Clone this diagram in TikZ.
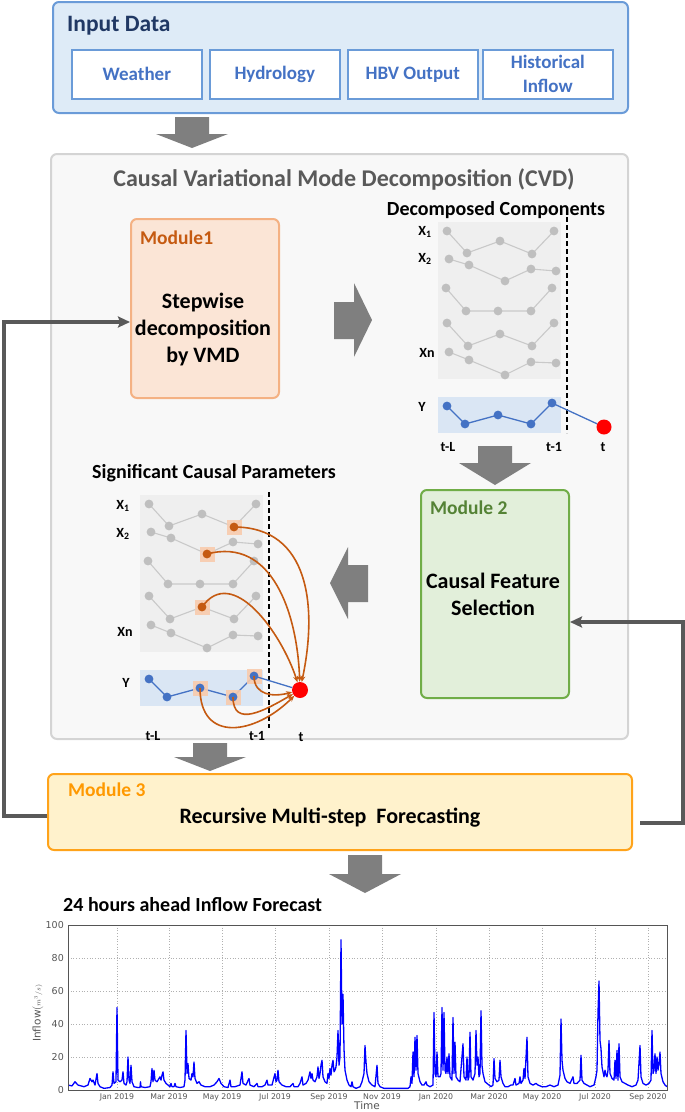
\documentclass[tikz,border=0pt]{standalone}
\usepackage{fontspec}
\setmainfont{Carlito}
\newfontfamily\plotfont{DejaVu Sans}
\usetikzlibrary{arrows.meta}
\definecolor{inbg}{HTML}{DEEBF7}
\definecolor{inbd}{HTML}{6A9BD8}
\definecolor{intxt}{HTML}{4472C4}
\definecolor{indark}{HTML}{203864}
\definecolor{garrow}{HTML}{7F7F7F}
\definecolor{cvdbg}{HTML}{F8F8F8}
\definecolor{cvdbd}{HTML}{D4D4D4}
\definecolor{cvdtxt}{HTML}{595959}
\definecolor{m1bg}{HTML}{FBE5D6}
\definecolor{m1bd}{HTML}{F4B183}
\definecolor{m1txt}{HTML}{C55A11}
\definecolor{m2bg}{HTML}{E2EFDA}
\definecolor{m2bd}{HTML}{70AD47}
\definecolor{m2txt}{HTML}{548235}
\definecolor{m3bg}{HTML}{FFF2CC}
\definecolor{m3bd}{HTML}{FFA31A}
\definecolor{m3txt}{HTML}{FF9900}
\definecolor{fb}{HTML}{595959}
\definecolor{pgray}{HTML}{EFEFEF}
\definecolor{ptgray}{HTML}{BFBFBF}
\definecolor{pblue}{HTML}{DAE6F4}
\definecolor{ptblue}{HTML}{4472C4}
\definecolor{hl}{HTML}{F8CBAD}
\definecolor{hlpt}{HTML}{C55A11}
\definecolor{plotblue}{HTML}{0000FF}
\definecolor{axgray}{HTML}{555555}
\definecolor{gridgray}{HTML}{B0B0B0}
\newcommand\fsz[1]{\fontsize{#1}{#1}\selectfont}
\newcommand\blockdown[4]{%
  \fill[garrow] (#1-17,#2) -- (#1+17,#2) -- (#1+17,#3) -- (#1+36,#3) -- (#1,#4) -- (#1-36,#3) -- (#1-17,#3) -- cycle;}
\newcommand\drawpanel{%
  \fill[pgray] (0,0) rectangle (123,157);
  \fill[pblue] (0,175) rectangle (123,211);
  \draw[sline] (9,9) coordinate (a11) -- (29,31) coordinate (a12) -- (62,19) coordinate (a13) -- (94,32) coordinate (a14) -- (116,9) coordinate (a15);
  \draw[sline] (11,37) coordinate (a21) -- (31,43) coordinate (a22) -- (67,59) coordinate (a23) -- (93,47) coordinate (a24) -- (118,49) coordinate (a25);
  \draw[sline] (8,66) coordinate (a31) -- (28,89) coordinate (a32) -- (60,89) coordinate (a33) -- (93,89) coordinate (a34) -- (114,66) coordinate (a35);
  \draw[sline] (9,101) coordinate (a41) -- (30,124) coordinate (a42) -- (62,112) coordinate (a43) -- (94,124) coordinate (a44) -- (116,101) coordinate (a45);
  \draw[sline] (11,130) coordinate (a51) -- (31,138) coordinate (a52) -- (67,153) coordinate (a53) -- (93,140) coordinate (a54) -- (118,141) coordinate (a55);
  \draw[yline] (9,184) coordinate (y1) -- (27,202) coordinate (y2) -- (60,193) coordinate (y3) -- (93,202) coordinate (y4) -- (114,181) coordinate (y5);
  \foreach \i in {1,...,5}{\foreach \j in {1,...,5}{\fill[ptgray] (a\i\j) circle[radius=4.4pt];}}
  \foreach \j in {1,...,5}{\fill[ptblue] (y\j) circle[radius=4.4pt];}
}
\tikzset{
  box/.style={draw, rounded corners=6pt, line width=2pt, anchor=north west, inner sep=0pt},
  subbox/.style={draw=inbd, fill=white, line width=1.6pt, anchor=north west, inner sep=0pt,
    minimum width=130, minimum height=49, text=intxt, font=\bfseries\fsz{19}, align=center},
  modtitle/.style={anchor=west, font=\bfseries\fsz{19.5}, inner sep=0pt},
  bigtext/.style={align=center, font=\bfseries\fontsize{22}{27}\selectfont, inner sep=0pt},
  ptitle/.style={font=\bfseries\fsz{20}, inner sep=0pt},
  lab/.style={font=\bfseries\fsz{14}, inner sep=0pt},
  sline/.style={draw=ptgray!85, line width=1.1pt},
  yline/.style={draw=ptblue, line width=1.3pt},
  fbline/.style={draw=fb, line width=3.5pt, -{Stealth[length=12pt,width=11pt,inset=2pt]}},
  hlcurve/.style={draw=hlpt, line width=1.6pt, -{Stealth[length=6pt,width=5pt]}},
  hlsq/.style={fill=hl, opacity=0.9, minimum size=15, inner sep=0pt},
  redpt/.style={circle, fill=red, inner sep=0pt},
  tick/.style={font=\plotfont\fsz{9.5}, text=axgray, inner sep=0pt},
}
\begin{document}
\begin{tikzpicture}[x=1pt,y=-1pt]
\useasboundingbox (0,0) rectangle (685,1112);

% ---------- Input data ----------
\node[box, fill=inbg, draw=inbd, minimum width=575, minimum height=111] (input) at (52,1) {};
\node[anchor=west, text=indark, font=\bfseries\fsz{23.5}, inner sep=0pt] (inputT) at (67,26) {Input Data};
\node[subbox] (weather) at (71,49) {Weather};
\node[subbox] (hydro) at (209,49) {Hydrology};
\node[subbox] (hbv) at (347,49) {HBV Output};
\node[subbox, font=\bfseries\fontsize{19}{24}\selectfont] (hist) at (482,49) {Historical\\Inflow};

\blockdown{192}{117}{134}{148}

% ---------- CVD ----------
\node[box, fill=cvdbg, draw=cvdbd, minimum width=577, minimum height=585] (cvd) at (50,153) {};
\node[font=\bfseries\fsz{24}, text=cvdtxt, inner sep=0pt] (cvdT) at (344,179) {Causal Variational Mode Decomposition (CVD)};

\node[box, fill=m1bg, draw=m1bd, minimum width=148, minimum height=179] (m1) at (130,218) {};
\node[modtitle, text=m1txt] (m1T) at (140,238) {Module1};
\node[bigtext] (m1txt) at (203,330) {Stepwise\\decomposition\\by VMD};

% right block arrow
\fill[garrow] (334,302) -- (354,302) -- (354,283) -- (372,320) -- (354,357) -- (354,339) -- (334,339) -- cycle;

% decomposed components
\node[ptitle] (decT) at (496,210) {Decomposed Components};
\begin{scope}[shift={(438,222)}, name prefix=dec-]
  \drawpanel
\end{scope}
\draw[dashed, line width=1.3pt, dash pattern=on 5pt off 3pt] (567,217) coordinate (dtop) -- (567,433) coordinate (dbot);
\node[redpt, minimum size=15] (redD) at (604,427) {};
\draw[yline] (dec-y5) -- (redD);
\node[lab] (dX1) at (425,232) {X\textsubscript{1}};
\node[lab] (dX2) at (425,259) {X\textsubscript{2}};
\node[lab] (dXn) at (427,353) {Xn};
\node[lab] (dY) at (422,407) {Y};
\node[lab] (dtL) at (448,447) {t-L};
\node[lab] (dt1) at (554,447) {t-1};
\node[lab] (dt) at (603,447) {t};

\blockdown{495}{446}{463}{485}

% module 2
\node[box, fill=m2bg, draw=m2bd, minimum width=148, minimum height=208] (m2) at (420,489) {};
\node[modtitle, text=m2txt] (m2T) at (430,508) {Module 2};
\node[bigtext] (m2txt) at (493,594) {Causal Feature\\Selection};

% left block arrow
\fill[garrow] (368,565) -- (348,565) -- (348,547) -- (330,583) -- (348,619) -- (348,602) -- (368,602) -- cycle;

% significant causal parameters
\node[ptitle] (sigT) at (214,473) {Significant Causal Parameters};
\begin{scope}[shift={(140,495)}, name prefix=sig-]
  \drawpanel
  \foreach \p in {a14,a23,a43,y3,y4,y5}{\node[hlsq] at (\p) {};}
  \foreach \p in {a14,a23,a43}{\fill[hlpt] (\p) circle[radius=4.4pt];}
  \foreach \p in {y3,y4,y5}{\fill[ptblue] (\p) circle[radius=4.4pt];}
\end{scope}
\draw[dashed, line width=1.3pt, dash pattern=on 5pt off 3pt] (269,492) coordinate (stop) -- (269,728) coordinate (sbot);
\node[redpt, minimum size=16] (redS) at (300,690) {};
\draw[yline] (sig-y5) -- (redS);
\draw[hlcurve] (sig-a14) to[out=0, in=78, looseness=1.15] (redS);
\draw[hlcurve] (sig-a23) to[out=15, in=92, looseness=1.1] (redS);
\draw[hlcurve] (sig-a43) to[out=55, in=108, looseness=1.1] (redS);
\draw[hlcurve] (sig-y5) to[out=-90, in=195, looseness=1.2] (redS);
\draw[hlcurve] (sig-y4) to[out=-90, in=210, looseness=1.35] (redS);
\draw[hlcurve] (sig-y3) to[out=-90, in=225, looseness=1.5] (redS);
\node[lab] (sX1) at (123,506) {X\textsubscript{1}};
\node[lab] (sX2) at (123,534) {X\textsubscript{2}};
\node[lab] (sXn) at (125,632) {Xn};
\node[lab] (sY) at (126,683) {Y};
\node[lab] (stL) at (153,736) {t-L};
\node[lab] (st1) at (257,736) {t-1};
\node[lab] (st) at (301,737) {t};

\blockdown{210}{743}{757}{771}

% ---------- Module 3 ----------
\node[box, fill=m3bg, draw=m3bd, minimum width=584, minimum height=76] (m3) at (47,773) {};
\node[modtitle, text=m3txt] (m3T) at (68,790) {Module 3};
\node[font=\bfseries\fsz{22}, inner sep=0pt] (m3txt) at (330,818) {Recursive Multi-step~~Forecasting};

% feedback lines
\coordinate (fbL) at (4,0);
\coordinate (fbR) at (683,0);
\coordinate (m3L) at ([yshift=-4pt]m3.west);
\coordinate (m1L) at ([yshift=-13.5pt]m1.west);
\draw[fbline] (m3L) -- (m3L -| fbL) -- (m1L -| fbL) -- (m1L);
\coordinate (m3R) at ([xshift=7pt,yshift=-11pt]m3.east);
\coordinate (m2R) at ([yshift=-28pt]m2.east);
\draw[fbline] (m3R) -- (m3R -| fbR) -- (m2R -| fbR) -- (m2R);

\blockdown{365}{855}{874}{893}

% ---------- Chart ----------
\node[ptitle, anchor=west] (chartT) at (63,905) {24 hours ahead Inflow Forecast};
\foreach \x in {117,169,222,275,329,382,436,489,542,595,648}{
  \draw[gridgray, line width=0.7pt, dotted] (\x,925) -- (\x,1090);}
\foreach \v in {20,40,60,80}{
  \draw[gridgray, line width=0.7pt, dotted] (68,1090-1.65*\v) -- (667,1090-1.65*\v);}
\begin{scope}
\clip (68,924) rectangle (667,1090);
\begin{scope}[shift={(0,1090)}, yscale=-1.65]
\draw[plotblue, line width=1.3pt, line join=round] plot coordinates {
(68,3) (72,2.5) (75,5) (78,3) (84,2) (88,3) (90,7) (92,5) (93,6) (95,3) (97,10) (98,4) (100,2) (104,1) (110,1.5) (112,3) (113,11) (114,4) (116,5) (117,50) (118,6) (120,5) (122,6) (123,11) (124,4) (126,3) (127,5) (128,20) (129,6) (130,4) (131,15) (132,5) (134,2) (138,1.5) (140,1.5) (140.5,5) (141,2) (145,1.5) (150,2) (151,5) (152,13) (153,5) (154,12) (155,6) (157,5) (159,7) (160,8) (161,6) (162,9) (163,11) (164,6) (166,4) (168,3) (170,2) (171,4) (172,2) (174,2) (175,4) (176,2) (180,1.5) (184,2) (185,6) (186,36) (187,10) (188,16) (189,7) (191,6) (192,10) (193,8) (194,17) (195,7) (197,4) (199,5) (201,3) (205,2) (210,2) (214,3) (217,5) (219,7) (221,4) (224,2) (228,1.5) (230,6) (231,2) (235,2) (240,3) (242,11) (243,4) (246,3) (249,7) (250,3) (254,2) (257,4) (258,2) (262,2) (265,3) (267,6) (268,3) (272,3) (275,10) (276,5) (277,6) (278,12) (279,5) (282,3) (286,2) (290,2) (293,4) (294,2) (298,2) (300,4) (302,8) (303,3) (306,4) (308,6) (310,11) (311,7) (312,10) (313,6) (315,5) (317,8) (318,14) (319,7) (320,10) (321,15) (322,18) (323,8) (325,5) (327,4) (328,10) (329,7) (330,13) (331,9) (332,15) (333,18) (334,11) (335,12) (336,14) (337,20) (338,36) (339,15) (340,20) (341,91) (342,40) (343,58) (344,25) (345,12) (347,6) (349,3) (351,2) (352,5) (353,2) (356,1) (360,2) (362,5) (364,10) (365,27) (366,17) (367,10) (369,5) (372,3) (375,2) (377,15) (378,4) (380,2) (384,1) (390,1) (400,1) (408,1) (410,2) (411,8) (412,4) (413,23) (414,8) (415,32) (416,12) (417,33) (418,10) (420,5) (422,3) (424,3) (426,5) (427,3) (430,2) (433,3) (434,47) (435,10) (436,8) (437,23) (438,8) (440,8) (441,10) (442,50) (443,12) (444,47) (445,12) (446,10) (447,20) (448,10) (449,22) (450,8) (452,6) (453,44) (454,10) (455,29) (456,8) (458,6) (460,5) (463,28) (464,8) (466,6) (467,20) (468,6) (469,8) (470,35) (471,8) (473,6) (475,10) (476,36) (477,15) (478,20) (479,8) (480,10) (481,48) (482,15) (483,10) (485,5) (487,4) (489,3) (491,2) (493,3) (494,19) (495,7) (497,5) (499,6) (500,18) (501,8) (503,4) (505,2) (508,2) (511,3) (513,3) (515,7) (516,3) (519,4) (520,8) (521,4) (523,6) (524,13) (525,7) (527,32) (528,8) (530,4) (533,3) (536,4) (538,3) (542,2) (546,2) (550,3) (554,2) (558,3) (560,9) (561,43) (562,18) (563,12) (565,7) (567,5) (570,4) (573,8) (574,4) (577,4) (580,6) (581,21) (582,6) (584,4) (587,3) (590,2) (594,3) (596,8) (597,12) (598,47) (599,66) (600,30) (601,25) (602,14) (604,8) (605,12) (606,9) (607,8) (608,12) (609,30) (610,10) (612,7) (614,6) (615,18) (616,7) (617,24) (618,6) (619,28) (620,8) (622,5) (625,4) (628,3) (632,2) (636,3) (638,6) (640,27) (641,8) (643,4) (646,3) (649,4) (651,6) (652,36) (653,10) (654,12) (655,22) (656,10) (657,20) (658,12) (659,16) (660,23) (661,10) (663,5) (665,3) (667,2)
};
\end{scope}
\end{scope}
\node[draw=axgray, line width=0.9pt, anchor=north west, minimum width=599, minimum height=165, inner sep=0pt] (axes) at (68,925) {};
\foreach \v in {0,20,40,60,80,100}{
  \node[tick, anchor=east] at (64,1090-1.65*\v) {\v};}
\foreach \x/\t in {117/Jan 2019,169/Mar 2019,222/May 2019,275/Jul 2019,329/Sep 2019,382/Nov 2019,436/Jan 2020,489/Mar 2020,542/May 2020,595/Jul 2020,648/Sep 2020}{
  \node[tick, font=\plotfont\fsz{7.8}] at (\x,1097) {\t};}
\node[tick, font=\plotfont\fsz{10.5}] (xlab) at (367,1106) {Time};
\node[tick, font=\plotfont\fsz{10.5}, rotate=90] (ylab) at (38,1013) {Inflow$(\scriptstyle m^3/s)$};
\end{tikzpicture}
\end{document}
